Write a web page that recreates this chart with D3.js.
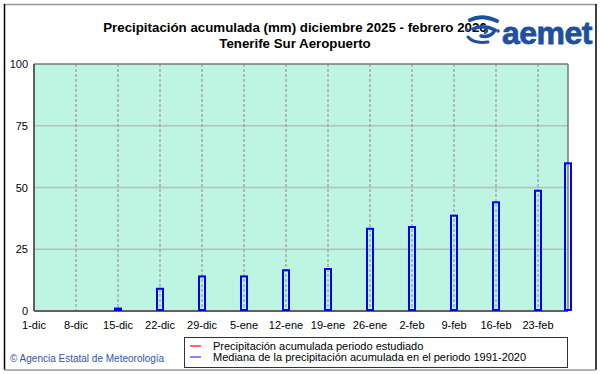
<!DOCTYPE html>
<html>
<head>
<meta charset="utf-8">
<script src="https://cdn.jsdelivr.net/npm/d3@7"></script>
<style>
  body { margin: 0; background: #fff; }
  text { font-family: "Liberation Sans", Arial, sans-serif; }
</style>
</head>
<body>
<div class="chart"></div>
<script>
// median accumulated precipitation 1991-2020 (blue bars)
const medianDates = ["2025-12-01", "2025-12-08", "2025-12-15", "2025-12-22", "2025-12-29",
    "2026-01-05", "2026-01-12", "2026-01-19", "2026-01-26", "2026-02-02",
    "2026-02-09", "2026-02-16", "2026-02-23", "2026-02-28"];
const medianValues = [0, 0, 1, 9, 14, 14, 16.5, 17, 33.3, 34, 38.6, 44, 48.7, 59.8];
// studied period (red) - no data yet
const studiedDates = [];
const studiedValues = [];

const monthNames = ["ene", "feb", "mar", "abr", "may", "jun", "jul", "ago", "sep", "oct", "nov", "dic"];
const yTicks = [0, 25, 50, 75, 100];
const legendLabels = ["Precipitación acumulada periodo estudiado",
    "Mediana de la precipitación acumulada en el periodo 1991-2020"];
const legendColors = ["#ff0000", "#3333ff"];

const width = 601, height = 374;
const svg = d3.select('.chart').append('svg')
    .attr('width', width)
    .attr('height', height);

// outer frame
svg.append('line').attr('x1', 4).attr('x2', 596).attr('y1', 4.5).attr('y2', 4.5)
    .attr('stroke', '#999').attr('stroke-width', 1.5);
svg.append('line').attr('x1', 4.5).attr('x2', 4.5).attr('y1', 4).attr('y2', 370)
    .attr('stroke', '#000').attr('stroke-width', 1.5);
svg.append('line').attr('x1', 596).attr('x2', 596).attr('y1', 4).attr('y2', 370)
    .attr('stroke', '#000').attr('stroke-width', 1.5);
svg.append('line').attr('x1', 4).attr('x2', 596).attr('y1', 370).attr('y2', 370)
    .attr('stroke', '#999').attr('stroke-width', 1.5);

// title
svg.append('text').attr('x', 295).attr('y', 32)
    .attr('text-anchor', 'middle').attr('font-size', 13.3).attr('font-weight', 'bold')
    .text('Precipitación acumulada (mm) diciembre 2025 - febrero 2026');
svg.append('text').attr('x', 295).attr('y', 48)
    .attr('text-anchor', 'middle').attr('font-size', 13.3).attr('font-weight', 'bold')
    .text('Tenerife Sur Aeropuerto');

// aemet logo
const logo = svg.append('g');
logo.append('rect').attr('x', 500).attr('y', 14).attr('width', 95).attr('height', 34).attr('fill', '#fff');
logo.append('text').attr('x', 502).attr('y', 44)
    .attr('font-size', 32).attr('font-weight', 'bold').attr('fill', '#1f4f9f')
    .attr('stroke', '#1f4f9f').attr('stroke-width', 0.8)
    .attr('letter-spacing', -0.5)
    .text('aemet');
const swirl = logo.append('g').attr('fill', 'none').attr('stroke', '#1f4f9f').attr('stroke-linecap', 'round');
swirl.append('path').attr('d', 'M470,20 Q482,14 497,21').attr('stroke-width', 4);
swirl.append('path').attr('d', 'M473,29 Q483,24 495,30 Q491,38 481,36').attr('stroke-width', 3.5);
swirl.append('path').attr('d', 'M468,37 Q474,44 488,42').attr('stroke-width', 3);
swirl.append('path').attr('d', 'M485,28 Q489,31 485,33').attr('stroke-width', 2.5);
logo.append('circle').attr('cx', 467).attr('cy', 30).attr('r', 1.8).attr('fill', '#1f4f9f');
logo.append('circle').attr('cx', 498).attr('cy', 31).attr('r', 1.8).attr('fill', '#1f4f9f');

// scales
const plotLeft = 34, plotRight = 568, plotTop = 64, plotBottom = 311;
const parse = d3.timeParse('%Y-%m-%d');
const x = d3.scaleTime()
    .domain([parse("2025-12-01"), parse("2026-02-28")])
    .range([plotLeft, plotRight]);
const y = d3.scaleLinear().domain([0, 100]).range([plotBottom, plotTop]);

const weekTicks = d3.timeDay.range(parse("2025-12-01"), parse("2026-02-28"), 7);
const fmt = d => d.getDate() + '-' + monthNames[d.getMonth()];

// plot background
svg.append('rect').attr('x', plotLeft).attr('y', plotTop)
    .attr('width', plotRight - plotLeft).attr('height', plotBottom - plotTop)
    .attr('fill', '#bef5e2');

// horizontal grid
svg.append('g').selectAll('line')
    .data(yTicks.filter(t => t > 0 && t < 100))
    .enter().append('line')
    .attr('x1', plotLeft).attr('x2', plotRight)
    .attr('y1', d => y(d)).attr('y2', d => y(d))
    .attr('stroke', '#bcbcbc').attr('stroke-width', 1.5);

// vertical grid
svg.append('g').selectAll('line')
    .data(weekTicks.slice(1))
    .enter().append('line')
    .attr('x1', d => x(d)).attr('x2', d => x(d))
    .attr('y1', plotTop).attr('y2', plotBottom)
    .attr('stroke', '#999').attr('stroke-width', 1.2)
    .attr('stroke-dasharray', '3,2');

// plot border
svg.append('line').attr('x1', plotLeft).attr('x2', plotRight).attr('y1', plotTop).attr('y2', plotTop)
    .attr('stroke', '#777').attr('stroke-width', 1.5);
svg.append('line').attr('x1', plotRight).attr('x2', plotRight).attr('y1', plotTop).attr('y2', plotBottom)
    .attr('stroke', '#777').attr('stroke-width', 1.5);
svg.append('line').attr('x1', plotLeft).attr('x2', plotLeft).attr('y1', plotTop).attr('y2', plotBottom)
    .attr('stroke', '#606060').attr('stroke-width', 2);
svg.append('line').attr('x1', plotLeft).attr('x2', plotRight).attr('y1', plotBottom).attr('y2', plotBottom)
    .attr('stroke', '#606060').attr('stroke-width', 2);

// median bars
const medianData = medianDates.map((d, i) => ({date: parse(d), value: medianValues[i]}));
svg.append('g').selectAll('rect')
    .data(medianData.filter(d => d.value > 0))
    .enter().append('rect')
    .attr('x', d => x(d.date) - 3)
    .attr('y', d => y(d.value))
    .attr('width', 6)
    .attr('height', d => Math.max(plotBottom - y(d.value) - 1, 1))
    .attr('fill', d => (plotBottom - y(d.value)) < 4 ? '#0000ff' : 'none')
    .attr('stroke', '#0000ff')
    .attr('stroke-width', 2);

// studied period line (empty)
const studiedData = studiedDates.map((d, i) => ({date: parse(d), value: studiedValues[i]}));
svg.append('path').datum(studiedData)
    .attr('fill', 'none').attr('stroke', '#ff0000').attr('stroke-width', 2)
    .attr('d', d3.line().x(d => x(d.date)).y(d => y(d.value)));

// y labels
svg.append('g').selectAll('text')
    .data(yTicks)
    .enter().append('text')
    .attr('x', 28)
    .attr('y', d => y(d) + 4)
    .attr('text-anchor', 'end')
    .attr('font-size', 11)
    .attr('fill', d => d === 100 ? '#200040' : '#000')
    .text(d => d);

// x labels
svg.append('g').selectAll('text')
    .data(weekTicks)
    .enter().append('text')
    .attr('x', d => x(d))
    .attr('y', 329)
    .attr('text-anchor', 'middle')
    .attr('font-size', 11)
    .text(fmt);

// legend
svg.append('rect').attr('x', 184.5).attr('y', 337.5).attr('width', 383).attr('height', 30)
    .attr('fill', '#fff').attr('stroke', '#333').attr('stroke-width', 1);
const leg = svg.append('g').selectAll('g')
    .data(legendLabels)
    .enter().append('g')
    .attr('transform', (d, i) => `translate(0, ${346 + i * 11})`);
leg.append('line').attr('x1', 190).attr('x2', 201).attr('y1', 0).attr('y2', 0)
    .attr('stroke', (d, i) => legendColors[i]).attr('stroke-width', 1.2);
leg.append('text').attr('x', 213).attr('y', 4)
    .attr('font-size', 11)
    .text(d => d);

// copyright
svg.append('text').attr('x', 10).attr('y', 362)
    .attr('font-size', 10).attr('fill', '#3355aa')
    .text('© Agencia Estatal de Meteorología');
</script>
</body>
</html>
